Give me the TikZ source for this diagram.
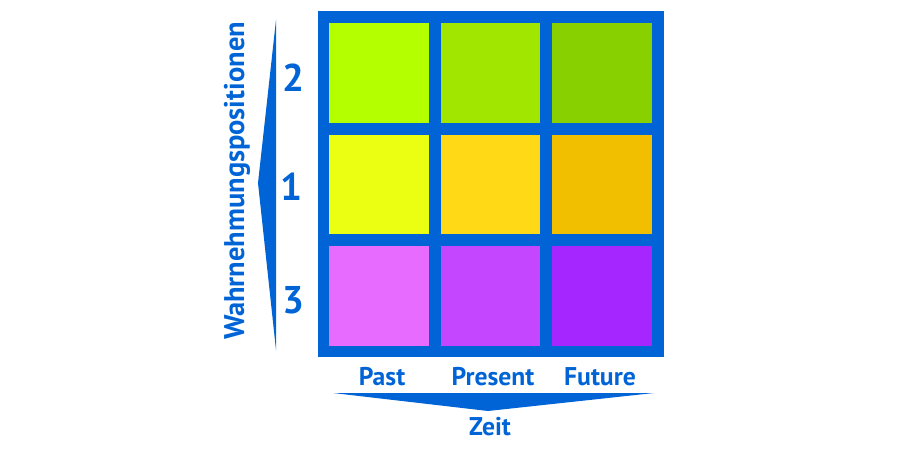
\documentclass[tikz,border=0pt]{standalone}
\usepackage{fontspec}
\setmainfont{PT Sans}
\definecolor{frameblue}{HTML}{0064D6}
\definecolor{cellAa}{HTML}{B4FF00}
\definecolor{cellAb}{HTML}{A0E600}
\definecolor{cellAc}{HTML}{88D000}
\definecolor{cellBa}{HTML}{EBFF12}
\definecolor{cellBb}{HTML}{FFD816}
\definecolor{cellBc}{HTML}{F2BF00}
\definecolor{cellCa}{HTML}{E86BFF}
\definecolor{cellCb}{HTML}{C447FF}
\definecolor{cellCc}{HTML}{A526FF}
\tikzset{
  cell/.style={minimum size=2cm, inner sep=0pt},
  lbl/.style={text=frameblue, font=\bfseries\fontsize{14.6}{16}\selectfont},
  num/.style={text=frameblue, font=\bfseries\fontsize{22}{24}\selectfont},
}
\begin{document}
\begin{tikzpicture}[x=0.02cm, y=-0.02cm]
  \useasboundingbox (0,0) rectangle (902,452);
  % frame
  \fill[frameblue] (318,11) rectangle (664,357);
  \foreach \r/\y in {A/73, B/184.5, C/296} {
    \foreach \c/\x in {a/379, b/490.5, c/602} {
      \node [cell, fill=cell\r\c] (cell-\r\c) at (\x,\y) {};
    }
  }
  % arrows
  \fill[frameblue] (276,20) -- (258,183) -- (276,350) -- cycle;
  \fill[frameblue] (333,393) -- (654,393) -- (488,411) -- cycle;
  % labels
  \node [num] (n2) at (293,78) {2};
  \node [num] (n1) at (291,187) {1};
  \node [num] (n3) at (293,300) {3};
  \node [lbl, rotate=90, font=\bfseries\fontsize{16.2}{18}\selectfont] (wahr) at (237,181) {Wahrnehmungspositionen};
  \node [lbl] (past) at (382,377) {Past};
  \node [lbl] (present) at (493,377) {Present};
  \node [lbl] (future) at (600,377) {Future};
  \node [lbl] (zeit) at (490,427) {Zeit};
\end{tikzpicture}
\end{document}
